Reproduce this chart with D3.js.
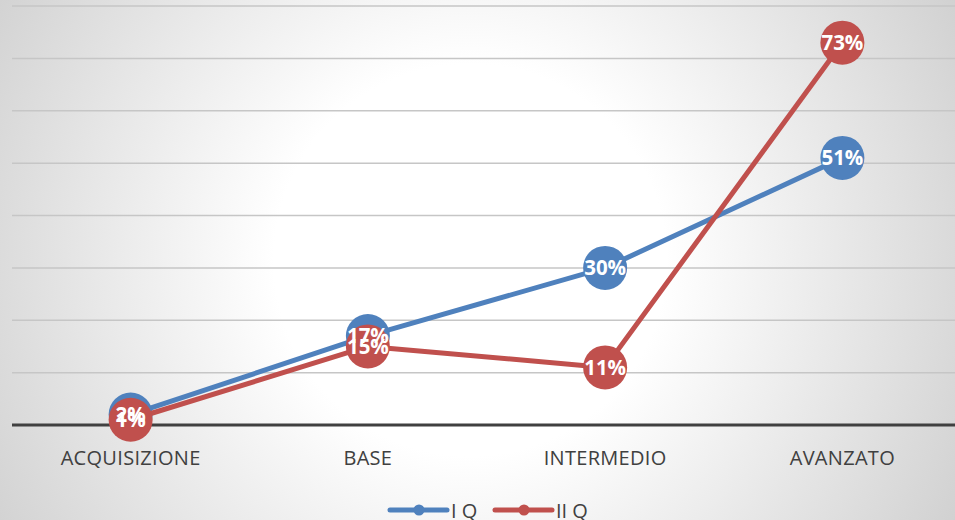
<!DOCTYPE html>
<html><head><meta charset="utf-8">
<script src="https://cdn.jsdelivr.net/npm/d3@7"></script>
<style>html,body{margin:0;padding:0;background:#fff;}svg{display:block;}</style>
</head><body>
<svg id="chart" width="955" height="520"></svg>
<script>
const categories = ["ACQUISIZIONE", "BASE", "INTERMEDIO", "AVANZATO"];
const seriesNames = ["I Q", "II Q"];
const seriesIQ = [2, 17, 30, 51];
const seriesIIQ = [1, 15, 11, 73];
const gridTicks = [0, 10, 20, 30, 40, 50, 60, 70, 80];
const colors = ["#4F81BD", "#C0504D"];

const W = 955, H = 520;
const FONT = "'Open Sans', 'Liberation Sans', sans-serif";
const svg = d3.select("#chart");
const defs = svg.append("defs");
const grad = defs.append("radialGradient").attr("id", "bg")
  .attr("gradientUnits", "userSpaceOnUse")
  .attr("cx", 470).attr("cy", 260).attr("r", 560);
grad.append("stop").attr("offset", "0%").attr("stop-color", "#ffffff");
grad.append("stop").attr("offset", "35%").attr("stop-color", "#ffffff");
grad.append("stop").attr("offset", "100%").attr("stop-color", "#d0d0d0");
svg.append("rect").attr("width", W).attr("height", H).attr("fill", "url(#bg)");

const left = 12, right = 961;
const x = d3.scaleBand().domain(categories).range([left, right]);
const y = d3.scaleLinear().domain([0, 80]).range([425, 6]);

// gridlines
svg.append("g").selectAll("line").data(gridTicks.filter(d => d > 0)).join("line")
  .attr("x1", left).attr("x2", W)
  .attr("y1", d => y(d)).attr("y2", d => y(d))
  .attr("stroke", "#c6c6c6").attr("stroke-width", 1.5);

// baseline axis
svg.append("line").attr("x1", left).attr("x2", W)
  .attr("y1", y(0)).attr("y2", y(0))
  .attr("stroke", "#404040").attr("stroke-width", 3);

// category labels
svg.append("g").selectAll("text").data(categories).join("text")
  .attr("x", d => x(d) + x.bandwidth() / 2).attr("y", 465)
  .attr("text-anchor", "middle")
  .attr("font-family", FONT)
  .attr("font-size", 20).attr("fill", "#404040")
  .attr("letter-spacing", 0.3)
  .text(d => d);

const series = [seriesIQ, seriesIIQ];
const cx = (i) => x(categories[i]) + x.bandwidth() / 2;
const line = d3.line().x((d, i) => cx(i)).y(d => y(d));

series.forEach((s, k) => {
  svg.append("path").datum(s).attr("d", line)
    .attr("fill", "none").attr("stroke", colors[k]).attr("stroke-width", 5)
    .attr("stroke-linejoin", "round");
  svg.append("g").selectAll("circle").data(s).join("circle")
    .attr("cx", (d, i) => cx(i)).attr("cy", d => y(d)).attr("r", 22)
    .attr("fill", colors[k]);
});
series.forEach((s, k) => {
  svg.append("g").selectAll("text").data(s).join("text")
    .attr("x", (d, i) => cx(i)).attr("y", d => y(d) + 7.5)
    .attr("text-anchor", "middle")
    .attr("font-family", FONT)
    .attr("font-weight", "bold").attr("font-size", 20.5).attr("fill", "#ffffff")
    .text(d => d + "%");
});

// legend
const legendX = [390, 495];
seriesNames.forEach((n, k) => {
  const g = svg.append("g").attr("transform", `translate(${legendX[k]},510)`);
  g.append("line").attr("x1", 0).attr("x2", 57).attr("y1", 0).attr("y2", 0)
    .attr("stroke", colors[k]).attr("stroke-width", 5).attr("stroke-linecap", "round");
  g.append("circle").attr("cx", 29).attr("cy", 0).attr("r", 5.5).attr("fill", colors[k]);
  g.append("text").attr("x", 61).attr("y", 8)
    .attr("font-family", FONT)
    .attr("font-size", 20).attr("fill", "#404040").text(n);
});
</script>
</body></html>
